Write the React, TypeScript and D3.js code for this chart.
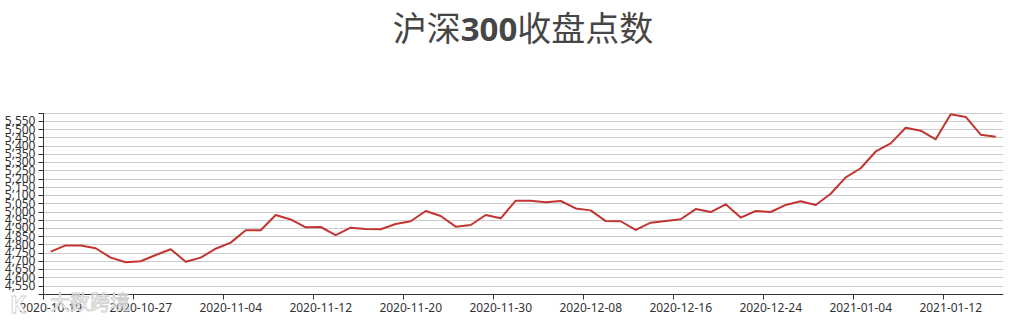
import React from "react";
import * as d3 from "d3";

const TITLE_A = "沪深";
const TITLE_B = "300";
const TITLE_C = "收盘点数";

const dates: string[] = [
  "2020-10-19", "2020-10-20", "2020-10-21", "2020-10-22", "2020-10-23",
  "2020-10-26", "2020-10-27", "2020-10-28", "2020-10-29", "2020-10-30",
  "2020-11-02", "2020-11-03", "2020-11-04", "2020-11-05", "2020-11-06",
  "2020-11-09", "2020-11-10", "2020-11-11", "2020-11-12", "2020-11-13",
  "2020-11-16", "2020-11-17", "2020-11-18", "2020-11-19", "2020-11-20",
  "2020-11-23", "2020-11-24", "2020-11-25", "2020-11-26", "2020-11-27",
  "2020-11-30", "2020-12-01", "2020-12-02", "2020-12-03", "2020-12-04",
  "2020-12-07", "2020-12-08", "2020-12-09", "2020-12-10", "2020-12-11",
  "2020-12-14", "2020-12-15", "2020-12-16", "2020-12-17", "2020-12-18",
  "2020-12-21", "2020-12-22", "2020-12-23", "2020-12-24", "2020-12-25",
  "2020-12-28", "2020-12-29", "2020-12-30", "2020-12-31", "2021-01-04",
  "2021-01-05", "2021-01-06", "2021-01-07", "2021-01-08", "2021-01-11",
  "2021-01-12", "2021-01-13", "2021-01-14", "2021-01-15",
];

const closes: number[] = [
  4759, 4797, 4797, 4780, 4723, 4695, 4701, 4739, 4774, 4698,
  4723, 4777, 4814, 4889, 4889, 4982, 4955, 4907, 4909, 4859,
  4905, 4897, 4895, 4927, 4944, 5006, 4976, 4911, 4921, 4982,
  4962, 5069, 5069, 5059, 5067, 5022, 5010, 4945, 4944, 4891,
  4935, 4945, 4956, 5018, 5000, 5047, 4966, 5006, 5000, 5043,
  5065, 5043, 5111, 5211, 5266, 5368, 5417, 5512, 5494, 5442,
  5594, 5578, 5470, 5457,
];

const yMin = 4500;
const yMax = 5600;
const yStep = 50;
const labelEvery = 6;

const W = 1018;
const H = 320;
const LEFT = 43.2;
const RIGHT = 1003.2;
const TOP = 113.3;
const BOTTOM = 294.3;

export default function App() {
  const x = d3.scaleBand<string>().domain(dates).range([LEFT, RIGHT]).padding(0);
  const y = d3.scaleLinear().domain([yMin, yMax]).range([BOTTOM, TOP]);
  const bw = x.bandwidth();
  const yTicks = d3.range(yMin, yMax + 1, yStep);
  const fmt = d3.format(",");

  const line = d3
    .line<number>()
    .x((_, i) => (x(dates[i]) as number) + bw / 2)
    .y((v) => y(v));

  const crisp = (v: number) => Math.round(v) + 0.5;
  const axisX = crisp(LEFT - 0.7);
  const axisY = crisp(BOTTOM - 0.5);

  const labelIdx = dates.map((_, i) => i).filter((i) => i % labelEvery === 0);
  const font = "'Noto Sans', 'Noto Sans CJK SC', sans-serif";

  return (
    <div style={{ position: "fixed", left: 0, top: 0 }}>
      <style>{`body{margin:0}`}</style>
      <svg width={W} height={H} style={{ display: "block", background: "#fff" }}>
        {/* title */}
        <text
          x={523}
          y={41}
          textAnchor="middle"
          fill="#464646"
          fontSize={34}
          fontFamily="'Noto Sans CJK SC', sans-serif"
        >
          <tspan>{TITLE_A}</tspan>
          <tspan fontWeight="bold" fontFamily="'Noto Sans', sans-serif" fontSize={33}>
            {TITLE_B}
          </tspan>
          <tspan>{TITLE_C}</tspan>
        </text>

        {/* grid lines */}
        {yTicks.map((t) => (
          <line
            key={"g" + t}
            x1={axisX}
            x2={RIGHT}
            y1={crisp(y(t) - 0.5)}
            y2={crisp(y(t) - 0.5)}
            stroke="#ccc"
            strokeWidth={1}
          />
        ))}

        {/* y axis */}
        <line x1={axisX} x2={axisX} y1={TOP} y2={BOTTOM} stroke="#333" strokeWidth={1} />
        {yTicks.map((t) => (
          <line
            key={"yt" + t}
            x1={axisX - 5}
            x2={axisX}
            y1={crisp(y(t) - 0.5)}
            y2={crisp(y(t) - 0.5)}
            stroke="#333"
            strokeWidth={1}
          />
        ))}
        {yTicks
          .filter((t) => t !== yMin && t !== yMax)
          .map((t) => (
            <text
              key={"yl" + t}
              x={35.5}
              y={y(t) + 3.8}
              textAnchor="end"
              fontSize={12}
              fill="#333"
              fontFamily={font}
            >
              {fmt(t)}
            </text>
          ))}

        {/* x axis */}
        <line x1={axisX} x2={RIGHT} y1={axisY} y2={axisY} stroke="#333" strokeWidth={1} />
        {labelIdx.map((i) => {
          const bx = crisp((x(dates[i]) as number) - 0.7);
          return (
            <line key={"xt" + i} x1={bx} x2={bx} y1={axisY} y2={axisY + 5} stroke="#333" strokeWidth={1} />
          );
        })}
        {labelIdx.map((i) => (
          <text
            key={"xl" + i}
            x={(x(dates[i]) as number) + bw / 2}
            y={311.5}
            textAnchor="middle"
            fontSize={12}
            fill="#333"
            fontFamily={font}
          >
            {dates[i]}
          </text>
        ))}

        {/* series line */}
        <path
          d={line(closes) || ""}
          fill="none"
          stroke="#c23531"
          strokeWidth={2}
          strokeLinejoin="round"
        />

        {/* watermark */}
        <g opacity={0.9}>
          <text
            x={10}
            y={313}
            fontSize={24}
            fontWeight="bold"
            fill="#fff"
            stroke="#c8c8c8"
            strokeWidth={0.8}
            fontFamily="'Noto Sans', sans-serif"
          >
            K
          </text>
          <text
            x={50}
            y={310}
            fontSize={20}
            fill="#fff"
            stroke="#c8c8c8"
            strokeWidth={0.8}
            fontFamily="'Noto Sans CJK SC', sans-serif"
          >
            大数跨境
          </text>
        </g>
      </svg>
    </div>
  );
}
